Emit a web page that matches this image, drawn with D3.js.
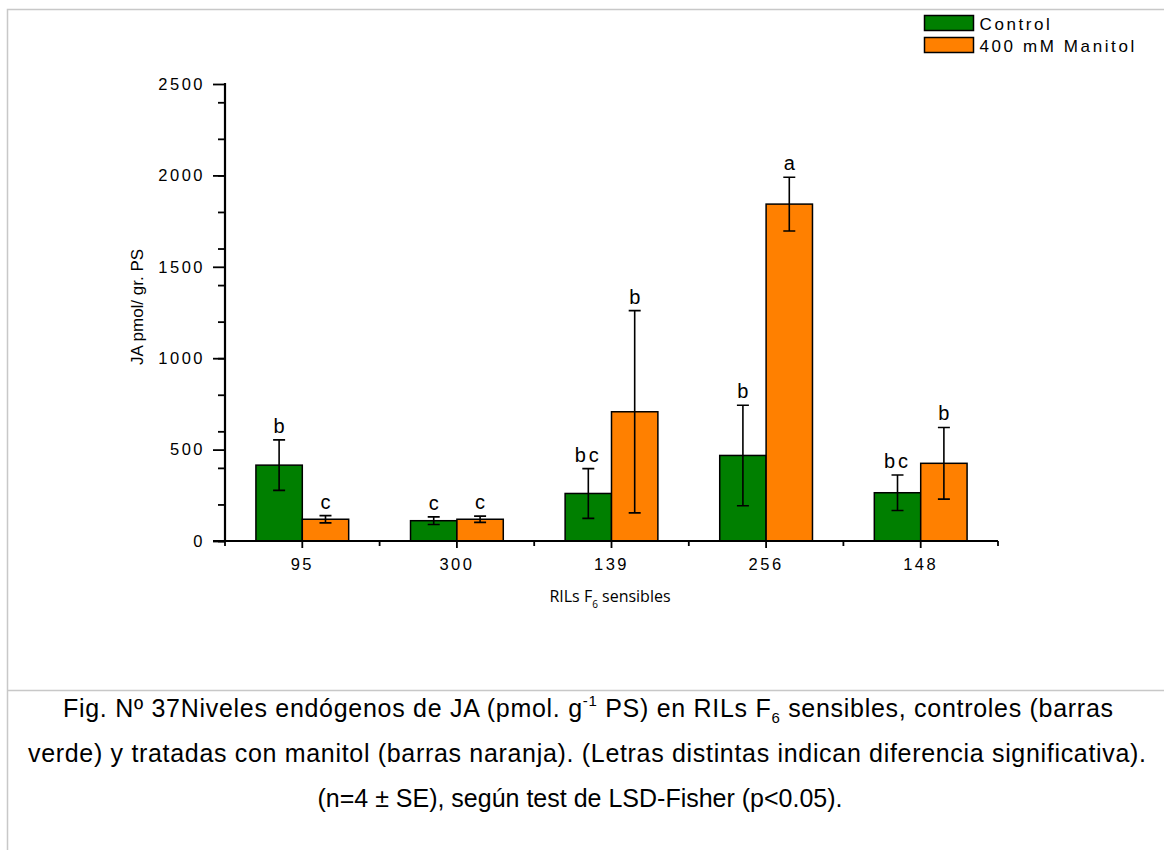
<!DOCTYPE html>
<html>
<head>
<meta charset="utf-8">
<script src="https://cdn.jsdelivr.net/npm/d3@7"></script>
<style>
  body { margin: 0; background: #fff; }
  svg text { font-family: "Liberation Sans", Arial, sans-serif; fill: #000; }
</style>
</head>
<body>
<div id="chart"></div>
<script>
// data
var lines = [ "95", "300", "139", "256", "148" ];
var series = [ "Control", "400 mM Manitol" ];
var controlValues = [ 415, 111, 260, 468, 264 ];
var controlErrors = [ 138, 21, 136, 275, 97 ];
var manitolValues = [ 119, 119, 707, 1843, 425 ];
var manitolErrors = [ 20, 17, 553, 147, 196 ];
var controlLetters = [ "b", "c", "bc", "b", "bc" ];
var manitolLetters = [ "c", "c", "b", "a", "b" ];
var yTicks = [ 0, 500, 1000, 1500, 2000, 2500 ];

var colors = { "Control": "#007f00", "400 mM Manitol": "#ff8000" };

var width = 1164, height = 850;

var svg = d3.select( "#chart" ).append( "svg" )
    .attr( "width", width )
    .attr( "height", height );

// page frame lines
svg.append( "path" )
    .attr( "d", "M7.5,850 V9.5 H1164 M7.5,690.5 H1164" )
    .attr( "fill", "none" )
    .attr( "stroke", "#c8c8c8" )
    .attr( "stroke-width", 1.5 );

var x = d3.scaleBand()
    .domain( lines )
    .range( [ 225, 998 ] )
    .paddingInner( 0 )
    .paddingOuter( 0 );

var sub = d3.scaleBand()
    .domain( series )
    .range( [ x.bandwidth() * 0.2, x.bandwidth() * 0.8 ] );

var y = d3.scaleLinear()
    .domain( [ 0, 2500 ] )
    .range( [ 541, 84 ] );

var rows = [];
lines.forEach( function ( l, i ) {
    rows.push( { line: l, s: series[0], v: controlValues[i], e: controlErrors[i], t: controlLetters[i] } );
    rows.push( { line: l, s: series[1], v: manitolValues[i], e: manitolErrors[i], t: manitolLetters[i] } );
} );

// bars
svg.append( "g" )
    .selectAll( "rect" )
    .data( rows )
    .enter().append( "rect" )
    .attr( "x", function ( d ) { return x( d.line ) + sub( d.s ); } )
    .attr( "width", sub.bandwidth() )
    .attr( "y", function ( d ) { return y( d.v ); } )
    .attr( "height", function ( d ) { return y( 0 ) - y( d.v ); } )
    .attr( "fill", function ( d ) { return colors[ d.s ]; } )
    .attr( "stroke", "#000" )
    .attr( "stroke-width", 1.5 );

// error bars
var eb = svg.append( "g" )
    .attr( "stroke", "#000" )
    .attr( "stroke-width", 1.6 )
    .attr( "fill", "none" );

eb.selectAll( "path" )
    .data( rows )
    .enter().append( "path" )
    .attr( "d", function ( d ) {
        var cx = x( d.line ) + sub( d.s ) + sub.bandwidth() / 2;
        var t = y( d.v + d.e ), b = y( d.v - d.e );
        return "M" + ( cx - 6 ) + "," + t + "H" + ( cx + 6 ) +
            "M" + cx + "," + t + "V" + b +
            "M" + ( cx - 6 ) + "," + b + "H" + ( cx + 6 );
    } );

// significance letters
svg.append( "g" )
    .selectAll( "text" )
    .data( rows )
    .enter().append( "text" )
    .attr( "x", function ( d ) { return x( d.line ) + sub( d.s ) + sub.bandwidth() / 2; } )
    .attr( "y", function ( d ) { return y( d.v + d.e ) - 7; } )
    .attr( "text-anchor", "middle" )
    .style( "font-size", "20px" )
    .style( "letter-spacing", function ( d ) { return d.t.length > 1 ? "3px" : "0px"; } )
    .text( function ( d ) { return d.t; } );

// y axis
var yAxis = svg.append( "g" )
    .attr( "transform", "translate(225,0)" )
    .call( d3.axisLeft( y ).tickValues( yTicks ).tickFormat( d3.format( "d" ) ).tickSize( 12 ).tickPadding( 8 ) );
yAxis.select( ".domain" ).remove();
yAxis.selectAll( "line" ).attr( "stroke", "#000" ).attr( "stroke-width", 1.8 );
yAxis.selectAll( "text" )
    .style( "font-size", "16.5px" )
    .style( "letter-spacing", "2.5px" )
    .style( "font-family", "'Liberation Sans', Arial, sans-serif" );

svg.append( "g" )
    .attr( "transform", "translate(225,0)" )
    .call( d3.axisLeft( y ).ticks( 10 ).tickSize( 7 ).tickFormat( "" ) )
    .call( function ( g ) {
        g.select( ".domain" ).remove();
        g.selectAll( "line" ).attr( "stroke", "#000" ).attr( "stroke-width", 1.8 );
    } );

svg.append( "line" )
    .attr( "x1", 225 ).attr( "x2", 225 )
    .attr( "y1", y( 2500 ) - 1 ).attr( "y2", y( 0 ) + 1 )
    .attr( "stroke", "#000" ).attr( "stroke-width", 2.2 );

// x axis
var xAxis = svg.append( "g" )
    .attr( "transform", "translate(0," + y( 0 ) + ")" )
    .call( d3.axisBottom( x ).tickSize( 7 ).tickPadding( 10 ) );
xAxis.select( ".domain" ).remove();
xAxis.selectAll( "line" ).attr( "stroke", "#000" ).attr( "stroke-width", 1.8 );
xAxis.selectAll( "text" )
    .style( "font-size", "16.5px" )
    .style( "letter-spacing", "2.5px" )
    .style( "font-family", "'Liberation Sans', Arial, sans-serif" );

svg.append( "g" )
    .attr( "transform", "translate(0," + y( 0 ) + ")" )
    .selectAll( "line" )
    .data( lines.map( function ( l ) { return x( l ); } ).concat( [ x.range()[1] ] ) )
    .enter().append( "line" )
    .attr( "x1", function ( d ) { return d; } )
    .attr( "x2", function ( d ) { return d; } )
    .attr( "y1", 0 ).attr( "y2", 5 )
    .attr( "stroke", "#000" ).attr( "stroke-width", 1.8 );

svg.append( "line" )
    .attr( "x1", 213 ).attr( "x2", 998 )
    .attr( "y1", y( 0 ) ).attr( "y2", y( 0 ) )
    .attr( "stroke", "#000" ).attr( "stroke-width", 2.2 );

// axis titles
svg.append( "text" )
    .attr( "transform", "translate(143,307) rotate(-90)" )
    .attr( "text-anchor", "middle" )
    .style( "font-size", "17px" )
    .text( "JA pmol/ gr. PS" );

var xt = svg.append( "text" )
    .attr( "x", 610 ).attr( "y", 602 )
    .attr( "text-anchor", "middle" )
    .style( "font-family", "'Open Sans', sans-serif" )
    .style( "font-size", "16px" );
xt.append( "tspan" ).text( "RILs F" );
xt.append( "tspan" ).attr( "dy", 6 ).style( "font-size", "10px" ).text( "6" );
xt.append( "tspan" ).attr( "dy", -6 ).text( " sensibles" );

// legend
var legend = svg.append( "g" )
    .selectAll( "g" )
    .data( series )
    .enter().append( "g" )
    .attr( "transform", function ( d, i ) { return "translate(924.5," + ( 15.5 + i * 22 ) + ")"; } );
legend.append( "rect" )
    .attr( "width", 49 ).attr( "height", 15 )
    .attr( "fill", function ( d ) { return colors[ d ]; } )
    .attr( "stroke", "#000" ).attr( "stroke-width", 1.5 );
legend.append( "text" )
    .attr( "x", 55 ).attr( "y", 14 )
    .style( "font-size", "17px" )
    .style( "letter-spacing", "2.6px" )
    .text( function ( d ) { return d; } );

// caption
var cap = svg.append( "g" ).style( "font-size", "25px" );
var c1 = cap.append( "text" ).attr( "x", 63 ).attr( "y", 717 )
    .attr( "textLength", 1050 ).attr( "lengthAdjust", "spacing" );
c1.append( "tspan" ).text( "Fig. Nº 37Niveles endógenos de JA (pmol. g" );
c1.append( "tspan" ).attr( "dy", -11 ).style( "font-size", "15px" ).text( "-1" );
c1.append( "tspan" ).attr( "dy", 11 ).text( " PS) en RILs F" );
c1.append( "tspan" ).attr( "dy", 6 ).style( "font-size", "15px" ).text( "6" );
c1.append( "tspan" ).attr( "dy", -6 ).text( " sensibles, controles (barras" );

cap.append( "text" ).attr( "x", 28 ).attr( "y", 762 )
    .attr( "textLength", 1118 ).attr( "lengthAdjust", "spacing" )
    .text( "verde) y tratadas con manitol (barras naranja). (Letras distintas indican diferencia significativa)." );

cap.append( "text" ).attr( "x", 580 ).attr( "y", 807 )
    .attr( "text-anchor", "middle" )
    .text( "(n=4 ± SE), según test de LSD-Fisher (p<0.05)." );
</script>
</body>
</html>
